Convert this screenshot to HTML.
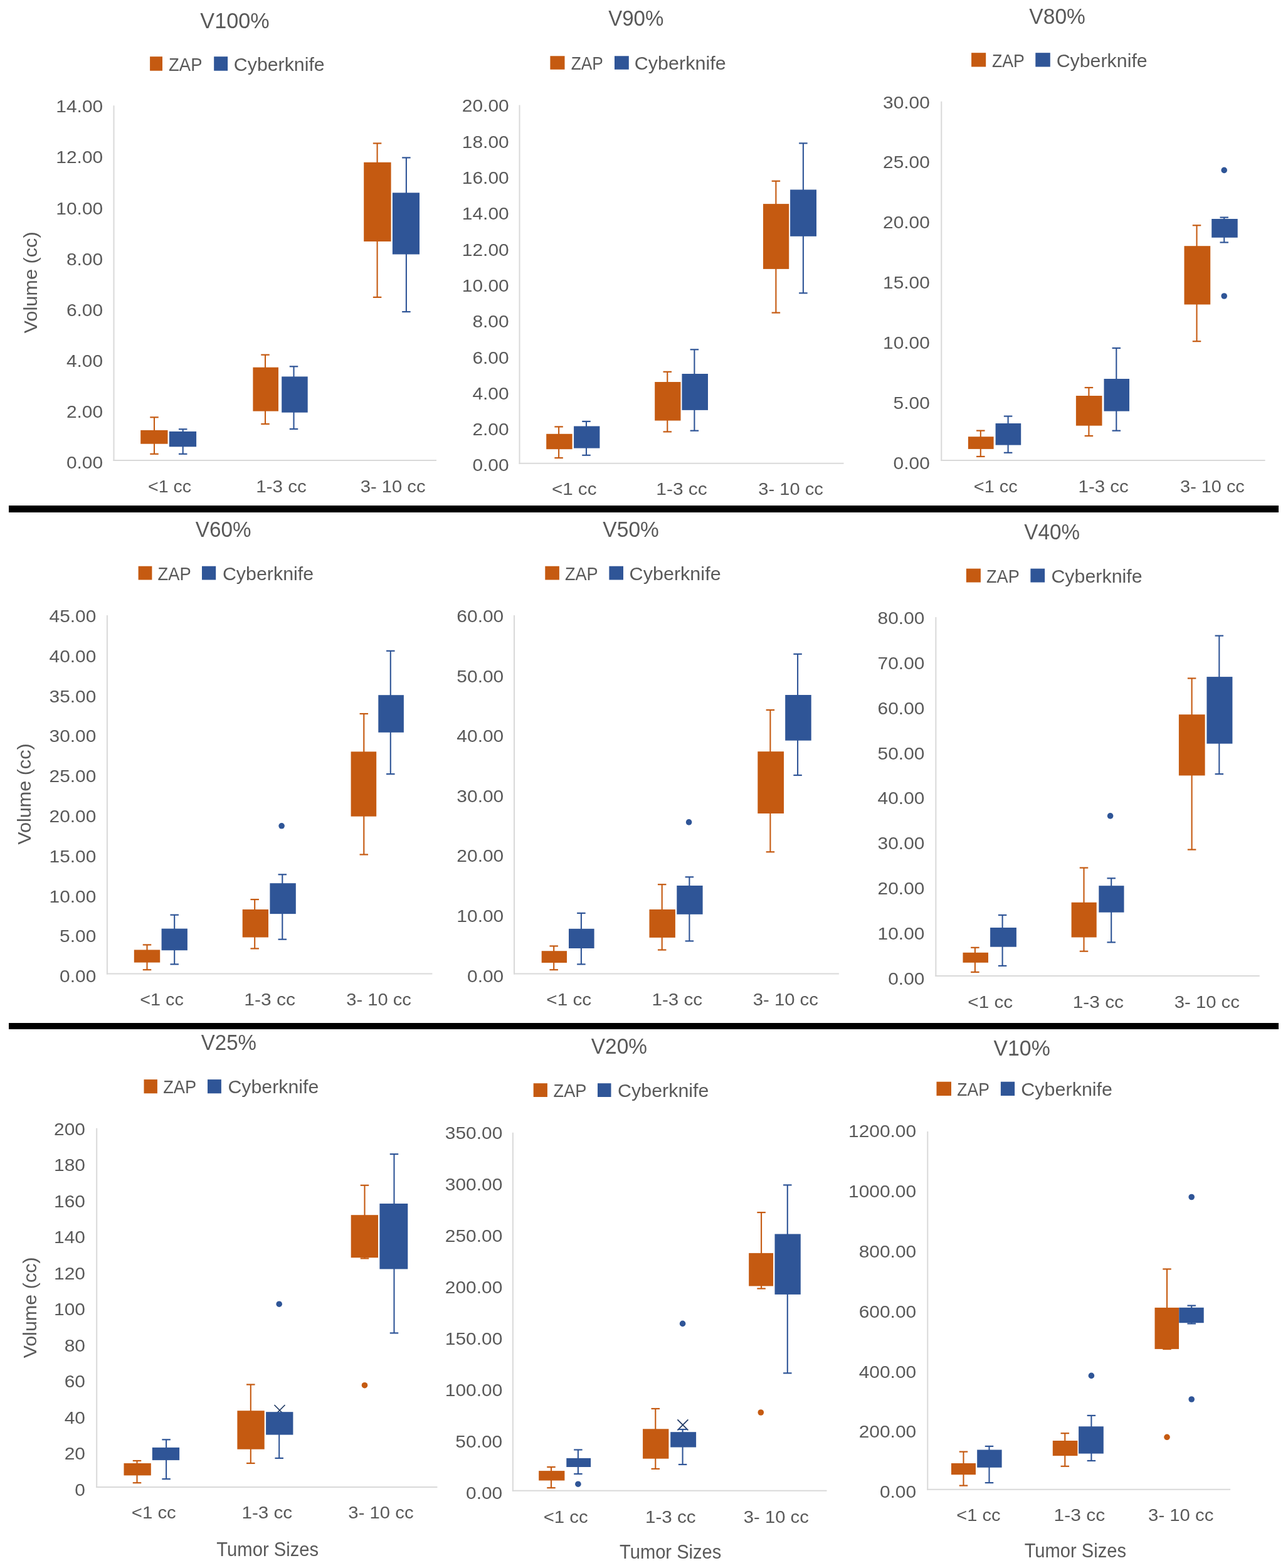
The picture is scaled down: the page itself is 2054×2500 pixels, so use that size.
<!DOCTYPE html>
<html><head><meta charset="utf-8"><title>Box plots</title>
<style>html,body{margin:0;padding:0;background:#fff;width:2054px;height:2500px;overflow:hidden;}svg{display:block;}text{font-family:"Liberation Sans",sans-serif;}</style>
</head><body>
<svg width="2054" height="2500" viewBox="0 0 2054 2500">
<rect x="0" y="0" width="2054" height="2500" fill="#fff"/>
<text x="319.33" y="44.60" font-size="35.5" textLength="110.39" lengthAdjust="spacingAndGlyphs" fill="#595959">V100%</text>
<rect x="239.10" y="90.20" width="19.90" height="22.60" fill="#C55A11"/>
<rect x="341.20" y="90.20" width="21.90" height="22.60" fill="#2F5597"/>
<text x="269.12" y="112.90" font-size="30" textLength="53.33" lengthAdjust="spacingAndGlyphs" fill="#595959">ZAP</text>
<text x="372.85" y="112.90" font-size="30" textLength="144.87" lengthAdjust="spacingAndGlyphs" fill="#595959">Cyberknife</text>
<line x1="181.50" y1="168.30" x2="181.50" y2="735.00" stroke="#D9D9D9" stroke-width="2"/>
<line x1="180.50" y1="734.00" x2="696.00" y2="734.00" stroke="#D9D9D9" stroke-width="2"/>
<text x="105.93" y="747.43" font-size="28.5" textLength="58.24" lengthAdjust="spacingAndGlyphs" fill="#595959">0.00</text>
<text x="105.93" y="666.25" font-size="28.5" textLength="58.24" lengthAdjust="spacingAndGlyphs" fill="#595959">2.00</text>
<text x="105.93" y="585.06" font-size="28.5" textLength="58.24" lengthAdjust="spacingAndGlyphs" fill="#595959">4.00</text>
<text x="105.93" y="503.88" font-size="28.5" textLength="58.24" lengthAdjust="spacingAndGlyphs" fill="#595959">6.00</text>
<text x="105.93" y="422.69" font-size="28.5" textLength="58.24" lengthAdjust="spacingAndGlyphs" fill="#595959">8.00</text>
<text x="89.29" y="341.50" font-size="28.5" textLength="74.89" lengthAdjust="spacingAndGlyphs" fill="#595959">10.00</text>
<text x="89.29" y="260.32" font-size="28.5" textLength="74.89" lengthAdjust="spacingAndGlyphs" fill="#595959">12.00</text>
<text x="89.29" y="179.13" font-size="28.5" textLength="74.89" lengthAdjust="spacingAndGlyphs" fill="#595959">14.00</text>
<text x="236.10" y="784.70" font-size="28.5" textLength="69.04" lengthAdjust="spacingAndGlyphs" fill="#595959">&lt;1 cc</text>
<text x="408.25" y="784.70" font-size="28.5" textLength="80.52" lengthAdjust="spacingAndGlyphs" fill="#595959">1-3 cc</text>
<text x="574.69" y="784.70" font-size="28.5" textLength="103.87" lengthAdjust="spacingAndGlyphs" fill="#595959">3- 10 cc</text>
<line x1="246.00" y1="665.30" x2="246.00" y2="723.80" stroke="#C55A11" stroke-width="2.1"/>
<line x1="239.25" y1="665.30" x2="252.75" y2="665.30" stroke="#C55A11" stroke-width="2.2"/>
<line x1="239.25" y1="723.80" x2="252.75" y2="723.80" stroke="#C55A11" stroke-width="2.2"/>
<rect x="224.20" y="685.90" width="43.30" height="21.80" fill="#C55A11"/>
<line x1="291.70" y1="684.30" x2="291.70" y2="723.80" stroke="#2F5597" stroke-width="2.1"/>
<line x1="284.95" y1="684.30" x2="298.45" y2="684.30" stroke="#2F5597" stroke-width="2.2"/>
<line x1="284.95" y1="723.80" x2="298.45" y2="723.80" stroke="#2F5597" stroke-width="2.2"/>
<rect x="269.80" y="687.90" width="43.30" height="24.40" fill="#2F5597"/>
<line x1="423.00" y1="565.70" x2="423.00" y2="676.00" stroke="#C55A11" stroke-width="2.1"/>
<line x1="416.25" y1="565.70" x2="429.75" y2="565.70" stroke="#C55A11" stroke-width="2.2"/>
<line x1="416.25" y1="676.00" x2="429.75" y2="676.00" stroke="#C55A11" stroke-width="2.2"/>
<rect x="403.40" y="585.70" width="40.60" height="69.90" fill="#C55A11"/>
<line x1="468.50" y1="584.30" x2="468.50" y2="684.00" stroke="#2F5597" stroke-width="2.1"/>
<line x1="461.75" y1="584.30" x2="475.25" y2="584.30" stroke="#2F5597" stroke-width="2.2"/>
<line x1="461.75" y1="684.00" x2="475.25" y2="684.00" stroke="#2F5597" stroke-width="2.2"/>
<rect x="449.20" y="600.40" width="41.50" height="57.30" fill="#2F5597"/>
<line x1="601.60" y1="228.50" x2="601.60" y2="473.90" stroke="#C55A11" stroke-width="2.1"/>
<line x1="594.85" y1="228.50" x2="608.35" y2="228.50" stroke="#C55A11" stroke-width="2.2"/>
<line x1="594.85" y1="473.90" x2="608.35" y2="473.90" stroke="#C55A11" stroke-width="2.2"/>
<rect x="580.20" y="258.80" width="43.40" height="126.20" fill="#C55A11"/>
<line x1="647.90" y1="251.40" x2="647.90" y2="497.10" stroke="#2F5597" stroke-width="2.1"/>
<line x1="641.15" y1="251.40" x2="654.65" y2="251.40" stroke="#2F5597" stroke-width="2.2"/>
<line x1="641.15" y1="497.10" x2="654.65" y2="497.10" stroke="#2F5597" stroke-width="2.2"/>
<rect x="625.90" y="307.30" width="43.10" height="98.20" fill="#2F5597"/>
<text transform="translate(59.30,531.30) rotate(-90)" x="-0.15" y="0" font-size="29.5" textLength="162.07" lengthAdjust="spacingAndGlyphs" fill="#595959">Volume (cc)</text>
<text x="970.13" y="41.10" font-size="35.5" textLength="88.24" lengthAdjust="spacingAndGlyphs" fill="#595959">V90%</text>
<rect x="877.40" y="89.30" width="23.10" height="21.50" fill="#C55A11"/>
<rect x="980.00" y="89.30" width="22.80" height="21.50" fill="#2F5597"/>
<text x="910.66" y="110.80" font-size="30" textLength="51.24" lengthAdjust="spacingAndGlyphs" fill="#595959">ZAP</text>
<text x="1011.84" y="110.80" font-size="30" textLength="145.79" lengthAdjust="spacingAndGlyphs" fill="#595959">Cyberknife</text>
<line x1="828.50" y1="167.60" x2="828.50" y2="739.80" stroke="#D9D9D9" stroke-width="2"/>
<line x1="827.50" y1="738.80" x2="1345.50" y2="738.80" stroke="#D9D9D9" stroke-width="2"/>
<text x="753.43" y="751.43" font-size="28.5" textLength="58.24" lengthAdjust="spacingAndGlyphs" fill="#595959">0.00</text>
<text x="753.43" y="694.12" font-size="28.5" textLength="58.24" lengthAdjust="spacingAndGlyphs" fill="#595959">2.00</text>
<text x="753.43" y="636.81" font-size="28.5" textLength="58.24" lengthAdjust="spacingAndGlyphs" fill="#595959">4.00</text>
<text x="753.43" y="579.50" font-size="28.5" textLength="58.24" lengthAdjust="spacingAndGlyphs" fill="#595959">6.00</text>
<text x="753.43" y="522.19" font-size="28.5" textLength="58.24" lengthAdjust="spacingAndGlyphs" fill="#595959">8.00</text>
<text x="736.79" y="464.88" font-size="28.5" textLength="74.89" lengthAdjust="spacingAndGlyphs" fill="#595959">10.00</text>
<text x="736.79" y="407.57" font-size="28.5" textLength="74.89" lengthAdjust="spacingAndGlyphs" fill="#595959">12.00</text>
<text x="736.79" y="350.26" font-size="28.5" textLength="74.89" lengthAdjust="spacingAndGlyphs" fill="#595959">14.00</text>
<text x="736.79" y="292.95" font-size="28.5" textLength="74.89" lengthAdjust="spacingAndGlyphs" fill="#595959">16.00</text>
<text x="736.79" y="235.64" font-size="28.5" textLength="74.89" lengthAdjust="spacingAndGlyphs" fill="#595959">18.00</text>
<text x="736.79" y="178.33" font-size="28.5" textLength="74.89" lengthAdjust="spacingAndGlyphs" fill="#595959">20.00</text>
<text x="879.95" y="788.50" font-size="28.5" textLength="71.52" lengthAdjust="spacingAndGlyphs" fill="#595959">&lt;1 cc</text>
<text x="1046.33" y="788.50" font-size="28.5" textLength="81.46" lengthAdjust="spacingAndGlyphs" fill="#595959">1-3 cc</text>
<text x="1209.29" y="788.50" font-size="28.5" textLength="103.67" lengthAdjust="spacingAndGlyphs" fill="#595959">3- 10 cc</text>
<line x1="891.10" y1="680.40" x2="891.10" y2="730.10" stroke="#C55A11" stroke-width="2.1"/>
<line x1="884.35" y1="680.40" x2="897.85" y2="680.40" stroke="#C55A11" stroke-width="2.2"/>
<line x1="884.35" y1="730.10" x2="897.85" y2="730.10" stroke="#C55A11" stroke-width="2.2"/>
<rect x="871.20" y="691.80" width="41.40" height="24.40" fill="#C55A11"/>
<line x1="935.00" y1="671.90" x2="935.00" y2="725.80" stroke="#2F5597" stroke-width="2.1"/>
<line x1="928.25" y1="671.90" x2="941.75" y2="671.90" stroke="#2F5597" stroke-width="2.2"/>
<line x1="928.25" y1="725.80" x2="941.75" y2="725.80" stroke="#2F5597" stroke-width="2.2"/>
<rect x="915.10" y="679.50" width="41.30" height="35.10" fill="#2F5597"/>
<line x1="1064.30" y1="592.80" x2="1064.30" y2="688.40" stroke="#C55A11" stroke-width="2.1"/>
<line x1="1057.55" y1="592.80" x2="1071.05" y2="592.80" stroke="#C55A11" stroke-width="2.2"/>
<line x1="1057.55" y1="688.40" x2="1071.05" y2="688.40" stroke="#C55A11" stroke-width="2.2"/>
<rect x="1044.20" y="609.00" width="41.30" height="61.60" fill="#C55A11"/>
<line x1="1107.40" y1="557.30" x2="1107.40" y2="686.70" stroke="#2F5597" stroke-width="2.1"/>
<line x1="1100.65" y1="557.30" x2="1114.15" y2="557.30" stroke="#2F5597" stroke-width="2.2"/>
<line x1="1100.65" y1="686.70" x2="1114.15" y2="686.70" stroke="#2F5597" stroke-width="2.2"/>
<rect x="1087.50" y="596.00" width="41.50" height="57.90" fill="#2F5597"/>
<line x1="1237.40" y1="288.70" x2="1237.40" y2="498.60" stroke="#C55A11" stroke-width="2.1"/>
<line x1="1230.65" y1="288.70" x2="1244.15" y2="288.70" stroke="#C55A11" stroke-width="2.2"/>
<line x1="1230.65" y1="498.60" x2="1244.15" y2="498.60" stroke="#C55A11" stroke-width="2.2"/>
<rect x="1217.00" y="325.10" width="41.20" height="103.80" fill="#C55A11"/>
<line x1="1280.90" y1="228.40" x2="1280.90" y2="467.30" stroke="#2F5597" stroke-width="2.1"/>
<line x1="1274.15" y1="228.40" x2="1287.65" y2="228.40" stroke="#2F5597" stroke-width="2.2"/>
<line x1="1274.15" y1="467.30" x2="1287.65" y2="467.30" stroke="#2F5597" stroke-width="2.2"/>
<rect x="1260.10" y="302.40" width="41.90" height="74.40" fill="#2F5597"/>
<text x="1641.33" y="38.00" font-size="35.5" textLength="89.56" lengthAdjust="spacingAndGlyphs" fill="#595959">V80%</text>
<rect x="1549.10" y="84.20" width="23.10" height="22.30" fill="#C55A11"/>
<rect x="1651.30" y="84.20" width="23.50" height="22.30" fill="#2F5597"/>
<text x="1581.94" y="106.50" font-size="30" textLength="51.97" lengthAdjust="spacingAndGlyphs" fill="#595959">ZAP</text>
<text x="1684.65" y="106.50" font-size="30" textLength="145.08" lengthAdjust="spacingAndGlyphs" fill="#595959">Cyberknife</text>
<line x1="1501.30" y1="161.80" x2="1501.30" y2="735.00" stroke="#D9D9D9" stroke-width="2"/>
<line x1="1500.30" y1="734.00" x2="2017.60" y2="734.00" stroke="#D9D9D9" stroke-width="2"/>
<text x="1424.63" y="748.23" font-size="28.5" textLength="58.24" lengthAdjust="spacingAndGlyphs" fill="#595959">0.00</text>
<text x="1424.63" y="652.28" font-size="28.5" textLength="58.24" lengthAdjust="spacingAndGlyphs" fill="#595959">5.00</text>
<text x="1407.99" y="556.33" font-size="28.5" textLength="74.89" lengthAdjust="spacingAndGlyphs" fill="#595959">10.00</text>
<text x="1407.99" y="460.38" font-size="28.5" textLength="74.89" lengthAdjust="spacingAndGlyphs" fill="#595959">15.00</text>
<text x="1407.99" y="364.43" font-size="28.5" textLength="74.89" lengthAdjust="spacingAndGlyphs" fill="#595959">20.00</text>
<text x="1407.99" y="268.48" font-size="28.5" textLength="74.89" lengthAdjust="spacingAndGlyphs" fill="#595959">25.00</text>
<text x="1407.99" y="172.53" font-size="28.5" textLength="74.89" lengthAdjust="spacingAndGlyphs" fill="#595959">30.00</text>
<text x="1552.78" y="785.00" font-size="28.5" textLength="69.87" lengthAdjust="spacingAndGlyphs" fill="#595959">&lt;1 cc</text>
<text x="1719.56" y="785.00" font-size="28.5" textLength="80.21" lengthAdjust="spacingAndGlyphs" fill="#595959">1-3 cc</text>
<text x="1882.10" y="785.00" font-size="28.5" textLength="102.65" lengthAdjust="spacingAndGlyphs" fill="#595959">3- 10 cc</text>
<line x1="1563.80" y1="686.60" x2="1563.80" y2="727.90" stroke="#C55A11" stroke-width="2.1"/>
<line x1="1557.05" y1="686.60" x2="1570.55" y2="686.60" stroke="#C55A11" stroke-width="2.2"/>
<line x1="1557.05" y1="727.90" x2="1570.55" y2="727.90" stroke="#C55A11" stroke-width="2.2"/>
<rect x="1543.90" y="696.20" width="40.70" height="19.70" fill="#C55A11"/>
<line x1="1607.60" y1="663.60" x2="1607.60" y2="721.80" stroke="#2F5597" stroke-width="2.1"/>
<line x1="1600.85" y1="663.60" x2="1614.35" y2="663.60" stroke="#2F5597" stroke-width="2.2"/>
<line x1="1600.85" y1="721.80" x2="1614.35" y2="721.80" stroke="#2F5597" stroke-width="2.2"/>
<rect x="1587.60" y="675.00" width="40.60" height="34.60" fill="#2F5597"/>
<line x1="1736.40" y1="618.00" x2="1736.40" y2="695.00" stroke="#C55A11" stroke-width="2.1"/>
<line x1="1729.65" y1="618.00" x2="1743.15" y2="618.00" stroke="#C55A11" stroke-width="2.2"/>
<line x1="1729.65" y1="695.00" x2="1743.15" y2="695.00" stroke="#C55A11" stroke-width="2.2"/>
<rect x="1715.90" y="631.00" width="41.60" height="47.70" fill="#C55A11"/>
<line x1="1780.30" y1="555.00" x2="1780.30" y2="686.70" stroke="#2F5597" stroke-width="2.1"/>
<line x1="1773.55" y1="555.00" x2="1787.05" y2="555.00" stroke="#2F5597" stroke-width="2.2"/>
<line x1="1773.55" y1="686.70" x2="1787.05" y2="686.70" stroke="#2F5597" stroke-width="2.2"/>
<rect x="1760.50" y="604.00" width="40.50" height="51.60" fill="#2F5597"/>
<line x1="1908.50" y1="359.30" x2="1908.50" y2="544.20" stroke="#C55A11" stroke-width="2.1"/>
<line x1="1901.75" y1="359.30" x2="1915.25" y2="359.30" stroke="#C55A11" stroke-width="2.2"/>
<line x1="1901.75" y1="544.20" x2="1915.25" y2="544.20" stroke="#C55A11" stroke-width="2.2"/>
<rect x="1888.50" y="392.20" width="41.70" height="93.30" fill="#C55A11"/>
<line x1="1952.20" y1="346.60" x2="1952.20" y2="386.50" stroke="#2F5597" stroke-width="2.1"/>
<line x1="1945.45" y1="346.60" x2="1958.95" y2="346.60" stroke="#2F5597" stroke-width="2.2"/>
<line x1="1945.45" y1="386.50" x2="1958.95" y2="386.50" stroke="#2F5597" stroke-width="2.2"/>
<rect x="1932.20" y="349.00" width="41.50" height="29.80" fill="#2F5597"/>
<circle cx="1952.20" cy="271.40" r="4.8" fill="#2F5597"/>
<circle cx="1952.20" cy="472.00" r="4.8" fill="#2F5597"/>
<text x="311.83" y="855.80" font-size="35.5" textLength="88.75" lengthAdjust="spacingAndGlyphs" fill="#595959">V60%</text>
<rect x="220.60" y="902.70" width="21.80" height="21.80" fill="#C55A11"/>
<rect x="322.00" y="902.70" width="22.20" height="21.80" fill="#2F5597"/>
<text x="251.52" y="924.50" font-size="30" textLength="53.22" lengthAdjust="spacingAndGlyphs" fill="#595959">ZAP</text>
<text x="354.95" y="924.50" font-size="30" textLength="145.18" lengthAdjust="spacingAndGlyphs" fill="#595959">Cyberknife</text>
<line x1="170.90" y1="981.00" x2="170.90" y2="1553.40" stroke="#D9D9D9" stroke-width="2"/>
<line x1="169.90" y1="1552.40" x2="689.40" y2="1552.40" stroke="#D9D9D9" stroke-width="2"/>
<text x="95.13" y="1566.03" font-size="28.5" textLength="58.24" lengthAdjust="spacingAndGlyphs" fill="#595959">0.00</text>
<text x="95.13" y="1502.27" font-size="28.5" textLength="58.24" lengthAdjust="spacingAndGlyphs" fill="#595959">5.00</text>
<text x="78.49" y="1438.50" font-size="28.5" textLength="74.89" lengthAdjust="spacingAndGlyphs" fill="#595959">10.00</text>
<text x="78.49" y="1374.73" font-size="28.5" textLength="74.89" lengthAdjust="spacingAndGlyphs" fill="#595959">15.00</text>
<text x="78.49" y="1310.97" font-size="28.5" textLength="74.89" lengthAdjust="spacingAndGlyphs" fill="#595959">20.00</text>
<text x="78.49" y="1247.20" font-size="28.5" textLength="74.89" lengthAdjust="spacingAndGlyphs" fill="#595959">25.00</text>
<text x="78.49" y="1183.43" font-size="28.5" textLength="74.89" lengthAdjust="spacingAndGlyphs" fill="#595959">30.00</text>
<text x="78.49" y="1119.67" font-size="28.5" textLength="74.89" lengthAdjust="spacingAndGlyphs" fill="#595959">35.00</text>
<text x="78.49" y="1055.90" font-size="28.5" textLength="74.89" lengthAdjust="spacingAndGlyphs" fill="#595959">40.00</text>
<text x="78.49" y="992.13" font-size="28.5" textLength="74.89" lengthAdjust="spacingAndGlyphs" fill="#595959">45.00</text>
<text x="223.19" y="1602.80" font-size="28.5" textLength="69.66" lengthAdjust="spacingAndGlyphs" fill="#595959">&lt;1 cc</text>
<text x="389.22" y="1602.80" font-size="28.5" textLength="81.77" lengthAdjust="spacingAndGlyphs" fill="#595959">1-3 cc</text>
<text x="552.19" y="1602.80" font-size="28.5" textLength="103.67" lengthAdjust="spacingAndGlyphs" fill="#595959">3- 10 cc</text>
<line x1="234.50" y1="1506.40" x2="234.50" y2="1546.20" stroke="#C55A11" stroke-width="2.1"/>
<line x1="227.75" y1="1506.40" x2="241.25" y2="1506.40" stroke="#C55A11" stroke-width="2.2"/>
<line x1="227.75" y1="1546.20" x2="241.25" y2="1546.20" stroke="#C55A11" stroke-width="2.2"/>
<rect x="213.80" y="1514.40" width="41.40" height="20.20" fill="#C55A11"/>
<line x1="278.20" y1="1458.70" x2="278.20" y2="1537.40" stroke="#2F5597" stroke-width="2.1"/>
<line x1="271.45" y1="1458.70" x2="284.95" y2="1458.70" stroke="#2F5597" stroke-width="2.2"/>
<line x1="271.45" y1="1537.40" x2="284.95" y2="1537.40" stroke="#2F5597" stroke-width="2.2"/>
<rect x="257.60" y="1480.60" width="41.30" height="34.60" fill="#2F5597"/>
<line x1="406.20" y1="1434.10" x2="406.20" y2="1512.40" stroke="#C55A11" stroke-width="2.1"/>
<line x1="399.45" y1="1434.10" x2="412.95" y2="1434.10" stroke="#C55A11" stroke-width="2.2"/>
<line x1="399.45" y1="1512.40" x2="412.95" y2="1512.40" stroke="#C55A11" stroke-width="2.2"/>
<rect x="386.70" y="1450.00" width="41.30" height="44.50" fill="#C55A11"/>
<line x1="450.30" y1="1394.30" x2="450.30" y2="1497.70" stroke="#2F5597" stroke-width="2.1"/>
<line x1="443.55" y1="1394.30" x2="457.05" y2="1394.30" stroke="#2F5597" stroke-width="2.2"/>
<line x1="443.55" y1="1497.70" x2="457.05" y2="1497.70" stroke="#2F5597" stroke-width="2.2"/>
<rect x="430.40" y="1408.20" width="41.40" height="48.90" fill="#2F5597"/>
<line x1="580.30" y1="1138.00" x2="580.30" y2="1362.50" stroke="#C55A11" stroke-width="2.1"/>
<line x1="573.55" y1="1138.00" x2="587.05" y2="1138.00" stroke="#C55A11" stroke-width="2.2"/>
<line x1="573.55" y1="1362.50" x2="587.05" y2="1362.50" stroke="#C55A11" stroke-width="2.2"/>
<rect x="559.60" y="1198.40" width="40.60" height="103.30" fill="#C55A11"/>
<line x1="622.80" y1="1037.80" x2="622.80" y2="1234.10" stroke="#2F5597" stroke-width="2.1"/>
<line x1="616.05" y1="1037.80" x2="629.55" y2="1037.80" stroke="#2F5597" stroke-width="2.2"/>
<line x1="616.05" y1="1234.10" x2="629.55" y2="1234.10" stroke="#2F5597" stroke-width="2.2"/>
<rect x="603.30" y="1108.20" width="40.60" height="59.60" fill="#2F5597"/>
<circle cx="449.10" cy="1316.80" r="4.8" fill="#2F5597"/>
<text transform="translate(49.00,1346.60) rotate(-90)" x="-0.15" y="0" font-size="29.5" textLength="161.36" lengthAdjust="spacingAndGlyphs" fill="#595959">Volume (cc)</text>
<text x="961.33" y="855.80" font-size="35.5" textLength="89.56" lengthAdjust="spacingAndGlyphs" fill="#595959">V50%</text>
<rect x="869.30" y="902.70" width="22.60" height="21.80" fill="#C55A11"/>
<rect x="971.40" y="902.70" width="22.60" height="21.80" fill="#2F5597"/>
<text x="900.93" y="924.50" font-size="30" textLength="52.80" lengthAdjust="spacingAndGlyphs" fill="#595959">ZAP</text>
<text x="1003.64" y="924.50" font-size="30" textLength="146.00" lengthAdjust="spacingAndGlyphs" fill="#595959">Cyberknife</text>
<line x1="820.00" y1="981.00" x2="820.00" y2="1553.40" stroke="#D9D9D9" stroke-width="2"/>
<line x1="819.00" y1="1552.40" x2="1337.90" y2="1552.40" stroke="#D9D9D9" stroke-width="2"/>
<text x="745.03" y="1565.53" font-size="28.5" textLength="58.24" lengthAdjust="spacingAndGlyphs" fill="#595959">0.00</text>
<text x="728.39" y="1469.97" font-size="28.5" textLength="74.89" lengthAdjust="spacingAndGlyphs" fill="#595959">10.00</text>
<text x="728.39" y="1374.40" font-size="28.5" textLength="74.89" lengthAdjust="spacingAndGlyphs" fill="#595959">20.00</text>
<text x="728.39" y="1278.83" font-size="28.5" textLength="74.89" lengthAdjust="spacingAndGlyphs" fill="#595959">30.00</text>
<text x="728.39" y="1183.27" font-size="28.5" textLength="74.89" lengthAdjust="spacingAndGlyphs" fill="#595959">40.00</text>
<text x="728.39" y="1087.70" font-size="28.5" textLength="74.89" lengthAdjust="spacingAndGlyphs" fill="#595959">50.00</text>
<text x="728.39" y="992.13" font-size="28.5" textLength="74.89" lengthAdjust="spacingAndGlyphs" fill="#595959">60.00</text>
<text x="871.34" y="1602.50" font-size="28.5" textLength="71.83" lengthAdjust="spacingAndGlyphs" fill="#595959">&lt;1 cc</text>
<text x="1039.45" y="1602.50" font-size="28.5" textLength="80.62" lengthAdjust="spacingAndGlyphs" fill="#595959">1-3 cc</text>
<text x="1200.79" y="1602.50" font-size="28.5" textLength="104.08" lengthAdjust="spacingAndGlyphs" fill="#595959">3- 10 cc</text>
<line x1="883.20" y1="1508.40" x2="883.20" y2="1546.20" stroke="#C55A11" stroke-width="2.1"/>
<line x1="876.45" y1="1508.40" x2="889.95" y2="1508.40" stroke="#C55A11" stroke-width="2.2"/>
<line x1="876.45" y1="1546.20" x2="889.95" y2="1546.20" stroke="#C55A11" stroke-width="2.2"/>
<rect x="863.70" y="1516.20" width="40.30" height="18.80" fill="#C55A11"/>
<line x1="926.90" y1="1455.90" x2="926.90" y2="1537.40" stroke="#2F5597" stroke-width="2.1"/>
<line x1="920.15" y1="1455.90" x2="933.65" y2="1455.90" stroke="#2F5597" stroke-width="2.2"/>
<line x1="920.15" y1="1537.40" x2="933.65" y2="1537.40" stroke="#2F5597" stroke-width="2.2"/>
<rect x="907.00" y="1480.80" width="40.60" height="31.20" fill="#2F5597"/>
<line x1="1055.70" y1="1410.20" x2="1055.70" y2="1514.50" stroke="#C55A11" stroke-width="2.1"/>
<line x1="1048.95" y1="1410.20" x2="1062.45" y2="1410.20" stroke="#C55A11" stroke-width="2.2"/>
<line x1="1048.95" y1="1514.50" x2="1062.45" y2="1514.50" stroke="#C55A11" stroke-width="2.2"/>
<rect x="1035.50" y="1450.00" width="41.40" height="44.90" fill="#C55A11"/>
<line x1="1099.40" y1="1398.30" x2="1099.40" y2="1500.40" stroke="#2F5597" stroke-width="2.1"/>
<line x1="1092.65" y1="1398.30" x2="1106.15" y2="1398.30" stroke="#2F5597" stroke-width="2.2"/>
<line x1="1092.65" y1="1500.40" x2="1106.15" y2="1500.40" stroke="#2F5597" stroke-width="2.2"/>
<rect x="1079.30" y="1412.00" width="41.30" height="45.80" fill="#2F5597"/>
<line x1="1228.40" y1="1132.00" x2="1228.40" y2="1358.30" stroke="#C55A11" stroke-width="2.1"/>
<line x1="1221.65" y1="1132.00" x2="1235.15" y2="1132.00" stroke="#C55A11" stroke-width="2.2"/>
<line x1="1221.65" y1="1358.30" x2="1235.15" y2="1358.30" stroke="#C55A11" stroke-width="2.2"/>
<rect x="1208.30" y="1198.20" width="41.70" height="98.80" fill="#C55A11"/>
<line x1="1272.10" y1="1042.80" x2="1272.10" y2="1236.00" stroke="#2F5597" stroke-width="2.1"/>
<line x1="1265.35" y1="1042.80" x2="1278.85" y2="1042.80" stroke="#2F5597" stroke-width="2.2"/>
<line x1="1265.35" y1="1236.00" x2="1278.85" y2="1236.00" stroke="#2F5597" stroke-width="2.2"/>
<rect x="1252.20" y="1108.00" width="41.50" height="72.70" fill="#2F5597"/>
<circle cx="1098.60" cy="1310.90" r="4.8" fill="#2F5597"/>
<text x="1633.33" y="859.70" font-size="35.5" textLength="88.75" lengthAdjust="spacingAndGlyphs" fill="#595959">V40%</text>
<rect x="1540.90" y="906.60" width="23.00" height="21.90" fill="#C55A11"/>
<rect x="1643.40" y="906.60" width="22.70" height="21.90" fill="#2F5597"/>
<text x="1573.03" y="928.50" font-size="30" textLength="52.70" lengthAdjust="spacingAndGlyphs" fill="#595959">ZAP</text>
<text x="1676.45" y="928.50" font-size="30" textLength="145.18" lengthAdjust="spacingAndGlyphs" fill="#595959">Cyberknife</text>
<line x1="1492.40" y1="984.10" x2="1492.40" y2="1557.10" stroke="#D9D9D9" stroke-width="2"/>
<line x1="1491.40" y1="1556.10" x2="2008.70" y2="1556.10" stroke="#D9D9D9" stroke-width="2"/>
<text x="1416.23" y="1570.03" font-size="28.5" textLength="58.24" lengthAdjust="spacingAndGlyphs" fill="#595959">0.00</text>
<text x="1399.59" y="1498.14" font-size="28.5" textLength="74.89" lengthAdjust="spacingAndGlyphs" fill="#595959">10.00</text>
<text x="1399.59" y="1426.26" font-size="28.5" textLength="74.89" lengthAdjust="spacingAndGlyphs" fill="#595959">20.00</text>
<text x="1399.59" y="1354.37" font-size="28.5" textLength="74.89" lengthAdjust="spacingAndGlyphs" fill="#595959">30.00</text>
<text x="1399.59" y="1282.48" font-size="28.5" textLength="74.89" lengthAdjust="spacingAndGlyphs" fill="#595959">40.00</text>
<text x="1399.59" y="1210.59" font-size="28.5" textLength="74.89" lengthAdjust="spacingAndGlyphs" fill="#595959">50.00</text>
<text x="1399.59" y="1138.71" font-size="28.5" textLength="74.89" lengthAdjust="spacingAndGlyphs" fill="#595959">60.00</text>
<text x="1399.59" y="1066.82" font-size="28.5" textLength="74.89" lengthAdjust="spacingAndGlyphs" fill="#595959">70.00</text>
<text x="1399.59" y="994.93" font-size="28.5" textLength="74.89" lengthAdjust="spacingAndGlyphs" fill="#595959">80.00</text>
<text x="1543.34" y="1607.00" font-size="28.5" textLength="71.83" lengthAdjust="spacingAndGlyphs" fill="#595959">&lt;1 cc</text>
<text x="1710.73" y="1607.00" font-size="28.5" textLength="81.35" lengthAdjust="spacingAndGlyphs" fill="#595959">1-3 cc</text>
<text x="1872.79" y="1607.00" font-size="28.5" textLength="104.08" lengthAdjust="spacingAndGlyphs" fill="#595959">3- 10 cc</text>
<line x1="1554.90" y1="1510.80" x2="1554.90" y2="1549.90" stroke="#C55A11" stroke-width="2.1"/>
<line x1="1548.15" y1="1510.80" x2="1561.65" y2="1510.80" stroke="#C55A11" stroke-width="2.2"/>
<line x1="1548.15" y1="1549.90" x2="1561.65" y2="1549.90" stroke="#C55A11" stroke-width="2.2"/>
<rect x="1535.50" y="1518.80" width="40.50" height="16.00" fill="#C55A11"/>
<line x1="1598.60" y1="1459.00" x2="1598.60" y2="1539.90" stroke="#2F5597" stroke-width="2.1"/>
<line x1="1591.85" y1="1459.00" x2="1605.35" y2="1459.00" stroke="#2F5597" stroke-width="2.2"/>
<line x1="1591.85" y1="1539.90" x2="1605.35" y2="1539.90" stroke="#2F5597" stroke-width="2.2"/>
<rect x="1579.10" y="1479.00" width="41.80" height="30.70" fill="#2F5597"/>
<line x1="1728.50" y1="1383.60" x2="1728.50" y2="1516.70" stroke="#C55A11" stroke-width="2.1"/>
<line x1="1721.75" y1="1383.60" x2="1735.25" y2="1383.60" stroke="#C55A11" stroke-width="2.2"/>
<line x1="1721.75" y1="1516.70" x2="1735.25" y2="1516.70" stroke="#C55A11" stroke-width="2.2"/>
<rect x="1708.60" y="1438.80" width="40.10" height="55.70" fill="#C55A11"/>
<line x1="1772.20" y1="1400.30" x2="1772.20" y2="1502.40" stroke="#2F5597" stroke-width="2.1"/>
<line x1="1765.45" y1="1400.30" x2="1778.95" y2="1400.30" stroke="#2F5597" stroke-width="2.2"/>
<line x1="1765.45" y1="1502.40" x2="1778.95" y2="1502.40" stroke="#2F5597" stroke-width="2.2"/>
<rect x="1752.30" y="1412.20" width="40.20" height="42.50" fill="#2F5597"/>
<line x1="1900.60" y1="1081.50" x2="1900.60" y2="1354.60" stroke="#C55A11" stroke-width="2.1"/>
<line x1="1893.85" y1="1081.50" x2="1907.35" y2="1081.50" stroke="#C55A11" stroke-width="2.2"/>
<line x1="1893.85" y1="1354.60" x2="1907.35" y2="1354.60" stroke="#C55A11" stroke-width="2.2"/>
<rect x="1879.90" y="1139.20" width="41.70" height="97.30" fill="#C55A11"/>
<line x1="1944.30" y1="1013.60" x2="1944.30" y2="1234.10" stroke="#2F5597" stroke-width="2.1"/>
<line x1="1937.55" y1="1013.60" x2="1951.05" y2="1013.60" stroke="#2F5597" stroke-width="2.2"/>
<line x1="1937.55" y1="1234.10" x2="1951.05" y2="1234.10" stroke="#2F5597" stroke-width="2.2"/>
<rect x="1924.40" y="1079.10" width="41.00" height="106.60" fill="#2F5597"/>
<circle cx="1770.60" cy="1300.90" r="4.8" fill="#2F5597"/>
<text x="320.73" y="1674.10" font-size="35.5" textLength="88.34" lengthAdjust="spacingAndGlyphs" fill="#595959">V25%</text>
<rect x="229.50" y="1721.10" width="21.40" height="22.20" fill="#C55A11"/>
<rect x="331.00" y="1721.10" width="21.90" height="22.20" fill="#2F5597"/>
<text x="260.13" y="1743.30" font-size="30" textLength="52.91" lengthAdjust="spacingAndGlyphs" fill="#595959">ZAP</text>
<text x="363.45" y="1743.30" font-size="30" textLength="144.98" lengthAdjust="spacingAndGlyphs" fill="#595959">Cyberknife</text>
<line x1="154.20" y1="1798.80" x2="154.20" y2="2372.00" stroke="#D9D9D9" stroke-width="2"/>
<line x1="153.20" y1="2371.00" x2="697.40" y2="2371.00" stroke="#D9D9D9" stroke-width="2"/>
<text x="119.33" y="2384.63" font-size="28.5" textLength="16.64" lengthAdjust="spacingAndGlyphs" fill="#595959">0</text>
<text x="102.69" y="2327.16" font-size="28.5" textLength="33.29" lengthAdjust="spacingAndGlyphs" fill="#595959">20</text>
<text x="102.69" y="2269.69" font-size="28.5" textLength="33.29" lengthAdjust="spacingAndGlyphs" fill="#595959">40</text>
<text x="102.69" y="2212.22" font-size="28.5" textLength="33.29" lengthAdjust="spacingAndGlyphs" fill="#595959">60</text>
<text x="102.69" y="2154.75" font-size="28.5" textLength="33.29" lengthAdjust="spacingAndGlyphs" fill="#595959">80</text>
<text x="86.05" y="2097.28" font-size="28.5" textLength="49.93" lengthAdjust="spacingAndGlyphs" fill="#595959">100</text>
<text x="86.05" y="2039.81" font-size="28.5" textLength="49.93" lengthAdjust="spacingAndGlyphs" fill="#595959">120</text>
<text x="86.05" y="1982.34" font-size="28.5" textLength="49.93" lengthAdjust="spacingAndGlyphs" fill="#595959">140</text>
<text x="86.05" y="1924.87" font-size="28.5" textLength="49.93" lengthAdjust="spacingAndGlyphs" fill="#595959">160</text>
<text x="86.05" y="1867.40" font-size="28.5" textLength="49.93" lengthAdjust="spacingAndGlyphs" fill="#595959">180</text>
<text x="86.05" y="1809.93" font-size="28.5" textLength="49.93" lengthAdjust="spacingAndGlyphs" fill="#595959">200</text>
<text x="209.86" y="2420.80" font-size="28.5" textLength="70.90" lengthAdjust="spacingAndGlyphs" fill="#595959">&lt;1 cc</text>
<text x="385.45" y="2420.80" font-size="28.5" textLength="80.73" lengthAdjust="spacingAndGlyphs" fill="#595959">1-3 cc</text>
<text x="555.39" y="2420.80" font-size="28.5" textLength="104.18" lengthAdjust="spacingAndGlyphs" fill="#595959">3- 10 cc</text>
<path d="M437.50 2240.00 L454.50 2257.00 M454.50 2240.00 L437.50 2257.00" stroke="#1F3864" stroke-width="1.7" fill="none"/>
<line x1="218.50" y1="2329.00" x2="218.50" y2="2364.20" stroke="#C55A11" stroke-width="2.1"/>
<line x1="211.75" y1="2329.00" x2="225.25" y2="2329.00" stroke="#C55A11" stroke-width="2.2"/>
<line x1="211.75" y1="2364.20" x2="225.25" y2="2364.20" stroke="#C55A11" stroke-width="2.2"/>
<rect x="197.50" y="2333.00" width="43.30" height="19.40" fill="#C55A11"/>
<line x1="265.10" y1="2295.30" x2="265.10" y2="2358.10" stroke="#2F5597" stroke-width="2.1"/>
<line x1="258.35" y1="2295.30" x2="271.85" y2="2295.30" stroke="#2F5597" stroke-width="2.2"/>
<line x1="258.35" y1="2358.10" x2="271.85" y2="2358.10" stroke="#2F5597" stroke-width="2.2"/>
<rect x="242.80" y="2307.90" width="43.30" height="20.20" fill="#2F5597"/>
<line x1="399.80" y1="2207.50" x2="399.80" y2="2333.00" stroke="#C55A11" stroke-width="2.1"/>
<line x1="393.05" y1="2207.50" x2="406.55" y2="2207.50" stroke="#C55A11" stroke-width="2.2"/>
<line x1="393.05" y1="2333.00" x2="406.55" y2="2333.00" stroke="#C55A11" stroke-width="2.2"/>
<rect x="378.40" y="2249.20" width="43.30" height="61.50" fill="#C55A11"/>
<line x1="445.20" y1="2253.00" x2="445.20" y2="2324.90" stroke="#2F5597" stroke-width="2.1"/>
<line x1="438.45" y1="2253.00" x2="451.95" y2="2253.00" stroke="#2F5597" stroke-width="2.2"/>
<line x1="438.45" y1="2324.90" x2="451.95" y2="2324.90" stroke="#2F5597" stroke-width="2.2"/>
<rect x="424.10" y="2251.20" width="43.30" height="36.40" fill="#2F5597"/>
<line x1="581.50" y1="1889.80" x2="581.50" y2="2006.40" stroke="#C55A11" stroke-width="2.1"/>
<line x1="574.75" y1="1889.80" x2="588.25" y2="1889.80" stroke="#C55A11" stroke-width="2.2"/>
<line x1="574.75" y1="2006.40" x2="588.25" y2="2006.40" stroke="#C55A11" stroke-width="2.2"/>
<rect x="559.70" y="1937.20" width="43.30" height="68.00" fill="#C55A11"/>
<line x1="628.50" y1="1840.10" x2="628.50" y2="2125.40" stroke="#2F5597" stroke-width="2.1"/>
<line x1="621.75" y1="1840.10" x2="635.25" y2="1840.10" stroke="#2F5597" stroke-width="2.2"/>
<line x1="621.75" y1="2125.40" x2="635.25" y2="2125.40" stroke="#2F5597" stroke-width="2.2"/>
<rect x="605.40" y="1919.00" width="44.90" height="104.40" fill="#2F5597"/>
<circle cx="445.20" cy="2079.20" r="4.8" fill="#2F5597"/>
<circle cx="581.50" cy="2208.70" r="4.8" fill="#C55A11"/>
<text transform="translate(57.80,2165.40) rotate(-90)" x="-0.15" y="0" font-size="29.5" textLength="161.16" lengthAdjust="spacingAndGlyphs" fill="#595959">Volume (cc)</text>
<text x="345.36" y="2480.70" font-size="31" textLength="162.80" lengthAdjust="spacingAndGlyphs" fill="#595959">Tumor Sizes</text>
<text x="942.73" y="1680.20" font-size="35.5" textLength="89.25" lengthAdjust="spacingAndGlyphs" fill="#595959">V20%</text>
<rect x="850.70" y="1727.20" width="22.20" height="21.80" fill="#C55A11"/>
<rect x="953.00" y="1727.20" width="21.50" height="21.80" fill="#2F5597"/>
<text x="882.53" y="1749.00" font-size="30" textLength="52.91" lengthAdjust="spacingAndGlyphs" fill="#595959">ZAP</text>
<text x="985.05" y="1749.00" font-size="30" textLength="145.38" lengthAdjust="spacingAndGlyphs" fill="#595959">Cyberknife</text>
<line x1="817.90" y1="1805.70" x2="817.90" y2="2377.70" stroke="#D9D9D9" stroke-width="2"/>
<line x1="816.90" y1="2376.70" x2="1318.50" y2="2376.70" stroke="#D9D9D9" stroke-width="2"/>
<text x="743.03" y="2390.43" font-size="28.5" textLength="58.24" lengthAdjust="spacingAndGlyphs" fill="#595959">0.00</text>
<text x="726.39" y="2308.38" font-size="28.5" textLength="74.89" lengthAdjust="spacingAndGlyphs" fill="#595959">50.00</text>
<text x="709.76" y="2226.32" font-size="28.5" textLength="91.53" lengthAdjust="spacingAndGlyphs" fill="#595959">100.00</text>
<text x="709.76" y="2144.26" font-size="28.5" textLength="91.53" lengthAdjust="spacingAndGlyphs" fill="#595959">150.00</text>
<text x="709.76" y="2062.20" font-size="28.5" textLength="91.53" lengthAdjust="spacingAndGlyphs" fill="#595959">200.00</text>
<text x="709.76" y="1980.15" font-size="28.5" textLength="91.53" lengthAdjust="spacingAndGlyphs" fill="#595959">250.00</text>
<text x="709.76" y="1898.09" font-size="28.5" textLength="91.53" lengthAdjust="spacingAndGlyphs" fill="#595959">300.00</text>
<text x="709.76" y="1816.03" font-size="28.5" textLength="91.53" lengthAdjust="spacingAndGlyphs" fill="#595959">350.00</text>
<text x="866.66" y="2428.10" font-size="28.5" textLength="71.00" lengthAdjust="spacingAndGlyphs" fill="#595959">&lt;1 cc</text>
<text x="1028.95" y="2428.10" font-size="28.5" textLength="80.73" lengthAdjust="spacingAndGlyphs" fill="#595959">1-3 cc</text>
<text x="1185.89" y="2428.10" font-size="28.5" textLength="103.87" lengthAdjust="spacingAndGlyphs" fill="#595959">3- 10 cc</text>
<path d="M1080.40 2263.30 L1097.40 2280.30 M1097.40 2263.30 L1080.40 2280.30" stroke="#1F3864" stroke-width="1.7" fill="none"/>
<line x1="879.00" y1="2339.00" x2="879.00" y2="2372.20" stroke="#C55A11" stroke-width="2.1"/>
<line x1="872.25" y1="2339.00" x2="885.75" y2="2339.00" stroke="#C55A11" stroke-width="2.2"/>
<line x1="872.25" y1="2372.20" x2="885.75" y2="2372.20" stroke="#C55A11" stroke-width="2.2"/>
<rect x="859.20" y="2345.10" width="41.20" height="15.40" fill="#C55A11"/>
<line x1="921.90" y1="2311.50" x2="921.90" y2="2350.00" stroke="#2F5597" stroke-width="2.1"/>
<line x1="915.15" y1="2311.50" x2="928.65" y2="2311.50" stroke="#2F5597" stroke-width="2.2"/>
<line x1="915.15" y1="2350.00" x2="928.65" y2="2350.00" stroke="#2F5597" stroke-width="2.2"/>
<rect x="903.30" y="2324.90" width="38.80" height="14.10" fill="#2F5597"/>
<line x1="1045.30" y1="2246.00" x2="1045.30" y2="2341.90" stroke="#C55A11" stroke-width="2.1"/>
<line x1="1038.55" y1="2246.00" x2="1052.05" y2="2246.00" stroke="#C55A11" stroke-width="2.2"/>
<line x1="1038.55" y1="2341.90" x2="1052.05" y2="2341.90" stroke="#C55A11" stroke-width="2.2"/>
<rect x="1025.10" y="2278.30" width="41.30" height="47.40" fill="#C55A11"/>
<line x1="1088.60" y1="2279.00" x2="1088.60" y2="2335.00" stroke="#2F5597" stroke-width="2.1"/>
<line x1="1081.85" y1="2279.00" x2="1095.35" y2="2279.00" stroke="#2F5597" stroke-width="2.2"/>
<line x1="1081.85" y1="2335.00" x2="1095.35" y2="2335.00" stroke="#2F5597" stroke-width="2.2"/>
<rect x="1069.20" y="2283.20" width="40.90" height="24.30" fill="#2F5597"/>
<line x1="1214.10" y1="1933.10" x2="1214.10" y2="2054.50" stroke="#C55A11" stroke-width="2.1"/>
<line x1="1207.35" y1="1933.10" x2="1220.85" y2="1933.10" stroke="#C55A11" stroke-width="2.2"/>
<line x1="1207.35" y1="2054.50" x2="1220.85" y2="2054.50" stroke="#C55A11" stroke-width="2.2"/>
<rect x="1194.20" y="1997.90" width="38.90" height="52.60" fill="#C55A11"/>
<line x1="1255.80" y1="1889.40" x2="1255.80" y2="2189.30" stroke="#2F5597" stroke-width="2.1"/>
<line x1="1249.05" y1="1889.40" x2="1262.55" y2="1889.40" stroke="#2F5597" stroke-width="2.2"/>
<line x1="1249.05" y1="2189.30" x2="1262.55" y2="2189.30" stroke="#2F5597" stroke-width="2.2"/>
<rect x="1235.50" y="1967.50" width="41.30" height="96.40" fill="#2F5597"/>
<circle cx="921.90" cy="2366.20" r="4.8" fill="#2F5597"/>
<circle cx="1088.60" cy="2110.40" r="4.8" fill="#2F5597"/>
<circle cx="1213.30" cy="2252.00" r="4.8" fill="#C55A11"/>
<text x="988.06" y="2484.70" font-size="31" textLength="162.30" lengthAdjust="spacingAndGlyphs" fill="#595959">Tumor Sizes</text>
<text x="1584.43" y="1682.60" font-size="35.5" textLength="90.37" lengthAdjust="spacingAndGlyphs" fill="#595959">V10%</text>
<rect x="1493.50" y="1724.70" width="23.50" height="22.30" fill="#C55A11"/>
<rect x="1595.90" y="1724.70" width="22.20" height="22.30" fill="#2F5597"/>
<text x="1526.25" y="1747.00" font-size="30" textLength="51.65" lengthAdjust="spacingAndGlyphs" fill="#595959">ZAP</text>
<text x="1628.35" y="1747.00" font-size="30" textLength="145.69" lengthAdjust="spacingAndGlyphs" fill="#595959">Cyberknife</text>
<line x1="1479.30" y1="1804.10" x2="1479.30" y2="2375.70" stroke="#D9D9D9" stroke-width="2"/>
<line x1="1478.30" y1="2374.70" x2="1962.10" y2="2374.70" stroke="#D9D9D9" stroke-width="2"/>
<text x="1402.93" y="2388.23" font-size="28.5" textLength="58.24" lengthAdjust="spacingAndGlyphs" fill="#595959">0.00</text>
<text x="1369.66" y="2292.43" font-size="28.5" textLength="91.53" lengthAdjust="spacingAndGlyphs" fill="#595959">200.00</text>
<text x="1369.66" y="2196.63" font-size="28.5" textLength="91.53" lengthAdjust="spacingAndGlyphs" fill="#595959">400.00</text>
<text x="1369.66" y="2100.83" font-size="28.5" textLength="91.53" lengthAdjust="spacingAndGlyphs" fill="#595959">600.00</text>
<text x="1369.66" y="2005.03" font-size="28.5" textLength="91.53" lengthAdjust="spacingAndGlyphs" fill="#595959">800.00</text>
<text x="1352.99" y="1909.23" font-size="28.5" textLength="108.17" lengthAdjust="spacingAndGlyphs" fill="#595959">1000.00</text>
<text x="1352.99" y="1813.43" font-size="28.5" textLength="108.17" lengthAdjust="spacingAndGlyphs" fill="#595959">1200.00</text>
<text x="1525.28" y="2425.30" font-size="28.5" textLength="70.18" lengthAdjust="spacingAndGlyphs" fill="#595959">&lt;1 cc</text>
<text x="1680.62" y="2425.30" font-size="28.5" textLength="81.56" lengthAdjust="spacingAndGlyphs" fill="#595959">1-3 cc</text>
<text x="1831.09" y="2425.30" font-size="28.5" textLength="104.28" lengthAdjust="spacingAndGlyphs" fill="#595959">3- 10 cc</text>
<line x1="1536.50" y1="2314.60" x2="1536.50" y2="2368.60" stroke="#C55A11" stroke-width="2.1"/>
<line x1="1529.75" y1="2314.60" x2="1543.25" y2="2314.60" stroke="#C55A11" stroke-width="2.2"/>
<line x1="1529.75" y1="2368.60" x2="1543.25" y2="2368.60" stroke="#C55A11" stroke-width="2.2"/>
<rect x="1517.00" y="2333.00" width="39.00" height="18.20" fill="#C55A11"/>
<line x1="1577.50" y1="2305.90" x2="1577.50" y2="2364.10" stroke="#2F5597" stroke-width="2.1"/>
<line x1="1570.75" y1="2305.90" x2="1584.25" y2="2305.90" stroke="#2F5597" stroke-width="2.2"/>
<line x1="1570.75" y1="2364.10" x2="1584.25" y2="2364.10" stroke="#2F5597" stroke-width="2.2"/>
<rect x="1558.20" y="2311.50" width="39.40" height="28.30" fill="#2F5597"/>
<line x1="1698.30" y1="2285.20" x2="1698.30" y2="2337.80" stroke="#C55A11" stroke-width="2.1"/>
<line x1="1691.55" y1="2285.20" x2="1705.05" y2="2285.20" stroke="#C55A11" stroke-width="2.2"/>
<line x1="1691.55" y1="2337.80" x2="1705.05" y2="2337.80" stroke="#C55A11" stroke-width="2.2"/>
<rect x="1678.80" y="2297.00" width="39.60" height="24.10" fill="#C55A11"/>
<line x1="1740.40" y1="2256.90" x2="1740.40" y2="2329.00" stroke="#2F5597" stroke-width="2.1"/>
<line x1="1733.65" y1="2256.90" x2="1747.15" y2="2256.90" stroke="#2F5597" stroke-width="2.2"/>
<line x1="1733.65" y1="2329.00" x2="1747.15" y2="2329.00" stroke="#2F5597" stroke-width="2.2"/>
<rect x="1720.10" y="2274.30" width="39.70" height="43.30" fill="#2F5597"/>
<line x1="1861.00" y1="2023.40" x2="1861.00" y2="2151.00" stroke="#C55A11" stroke-width="2.1"/>
<line x1="1854.25" y1="2023.40" x2="1867.75" y2="2023.40" stroke="#C55A11" stroke-width="2.2"/>
<line x1="1854.25" y1="2151.00" x2="1867.75" y2="2151.00" stroke="#C55A11" stroke-width="2.2"/>
<rect x="1841.50" y="2084.90" width="38.50" height="66.00" fill="#C55A11"/>
<line x1="1900.20" y1="2081.60" x2="1900.20" y2="2110.40" stroke="#2F5597" stroke-width="2.1"/>
<line x1="1893.45" y1="2081.60" x2="1906.95" y2="2081.60" stroke="#2F5597" stroke-width="2.2"/>
<line x1="1893.45" y1="2110.40" x2="1906.95" y2="2110.40" stroke="#2F5597" stroke-width="2.2"/>
<rect x="1880.20" y="2084.80" width="39.50" height="24.40" fill="#2F5597"/>
<circle cx="1740.40" cy="2193.40" r="4.8" fill="#2F5597"/>
<circle cx="1861.00" cy="2291.30" r="4.8" fill="#C55A11"/>
<circle cx="1900.20" cy="1908.50" r="4.8" fill="#2F5597"/>
<circle cx="1900.20" cy="2231.00" r="4.8" fill="#2F5597"/>
<text x="1633.66" y="2482.70" font-size="31" textLength="162.40" lengthAdjust="spacingAndGlyphs" fill="#595959">Tumor Sizes</text>
<rect x="14.00" y="806.00" width="2025.00" height="11.00" fill="#000"/>
<rect x="14.00" y="1631.00" width="2025.00" height="10.00" fill="#000"/>
</svg>
</body></html>
